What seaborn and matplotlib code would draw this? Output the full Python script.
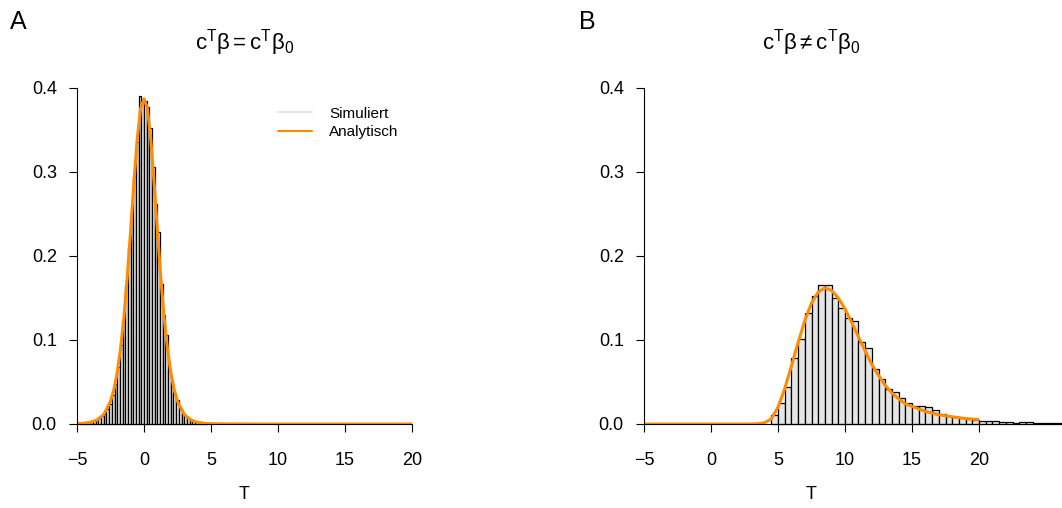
import numpy as np
import pandas as pd
import matplotlib
matplotlib.use("Agg")
import matplotlib.pyplot as plt
import seaborn as sns

# ---------------- data ----------------
# Panel A: simulated histogram (bin width 0.2, edges -4.8 .. 4.8)
a_edges = [round(-4.8 + 0.2 * i, 1) for i in range(49)]
a_heights = [0.001, 0.001, 0.002, 0.002, 0.003, 0.004, 0.005, 0.007, 0.010, 0.012,
             0.018, 0.024, 0.034, 0.048, 0.068, 0.094, 0.122, 0.165, 0.209, 0.250,
             0.294, 0.336, 0.391, 0.386, 0.385, 0.377, 0.352, 0.306, 0.262, 0.229,
             0.167, 0.130, 0.106, 0.064, 0.050, 0.036, 0.028, 0.018, 0.013, 0.010,
             0.007, 0.005, 0.003, 0.002, 0.002, 0.001, 0.001, 0.0005]
# Panel A: analytic density
a_curve_t = [-5, -4.5, -4, -3.5, -3, -2.5, -2.25, -2, -1.75, -1.5, -1.25, -1, -0.75,
             -0.5, -0.25, 0, 0.25, 0.5, 0.75, 1, 1.25, 1.5, 1.75, 2, 2.25, 2.5, 3,
             3.5, 4, 4.5, 5, 6, 8, 20]
a_curve_d = [0.0004, 0.0008, 0.002, 0.0048, 0.0114, 0.027, 0.041, 0.061, 0.090, 0.127,
             0.175, 0.230, 0.288, 0.340, 0.376, 0.387, 0.376, 0.340, 0.288, 0.230,
             0.175, 0.127, 0.090, 0.061, 0.041, 0.027, 0.0114, 0.0048, 0.002, 0.0008,
             0.0004, 0.0001, 0.0, 0.0]

# Panel B: simulated histogram (bin width 0.5, edges 4.5 .. 26.5)
b_edges = [4.5 + 0.5 * i for i in range(45)]
b_heights = [0.011, 0.025, 0.044, 0.078, 0.101, 0.132, 0.152, 0.165, 0.165, 0.150,
             0.138, 0.126, 0.123, 0.098, 0.090, 0.065, 0.054, 0.042, 0.038, 0.031,
             0.025, 0.022, 0.021, 0.020, 0.017, 0.012, 0.010, 0.008, 0.007, 0.006,
             0.005, 0.004, 0.003, 0.003, 0.002, 0.002, 0.0015, 0.002, 0.0025, 0.0015,
             0.001, 0.0015, 0.001, 0.001]
# Panel B: analytic density
b_curve_t = [-5, 3, 3.5, 4, 4.5, 5, 5.5, 6, 6.5, 7, 7.5, 8, 8.5, 9, 9.5, 10, 10.5, 11,
             11.5, 12, 12.5, 13, 13.5, 14, 14.5, 15, 16, 17, 18, 19, 20]
b_curve_d = [0.0, 0.0, 0.0004, 0.0015, 0.006, 0.020, 0.042, 0.069, 0.097, 0.123, 0.144,
             0.157, 0.162, 0.159, 0.150, 0.137, 0.121, 0.104, 0.087, 0.071, 0.058,
             0.046, 0.037, 0.030, 0.024, 0.021, 0.015, 0.011, 0.0085, 0.0065, 0.0053]

x_ticks = [-5, 0, 5, 10, 15, 20]
x_ticklabels = ["\u22125", "0", "5", "10", "15", "20"]
y_ticks = [0.0, 0.1, 0.2, 0.3, 0.4]
y_ticklabels = ["0.0", "0.1", "0.2", "0.3", "0.4"]
titles = [r"$\mathrm{c^T\beta = c^T\beta_0}$", r"$\mathrm{c^T\beta \neq c^T\beta_0}$"]
panel_labels = ["A", "B"]
legend_labels = ["Simuliert", "Analytisch"]
x_label = "T"

# ---------------- style ----------------
sns.set_style("ticks")
plt.rcParams["font.family"] = ["Liberation Sans", "DejaVu Sans"]
plt.rcParams["mathtext.fontset"] = "custom"
plt.rcParams["mathtext.rm"] = "Liberation Sans"
plt.rcParams["mathtext.it"] = "Liberation Sans:italic"
plt.rcParams["mathtext.fallback"] = "stixsans"
plt.rcParams["text.color"] = "black"
plt.rcParams["axes.labelcolor"] = "black"

ORANGE = "#FF8C00"
BARFILL = "#E5E5E5"

fig = plt.figure(figsize=(10.62, 5.08), dpi=100)
W, H = 1062, 508
ax_w = 335 / W
ax_h = 336 / H
ax_bottom = (H - 424) / H
axA = fig.add_axes([77 / W, ax_bottom, ax_w, ax_h])
axB = fig.add_axes([644 / W, ax_bottom, ax_w, ax_h])

panels = [
    (axA, a_edges, a_heights, a_curve_t, a_curve_d),
    (axB, b_edges, b_heights, b_curve_t, b_curve_d),
]

for i, (ax, edges, heights, ct, cd) in enumerate(panels):
    centers = [(edges[k] + edges[k + 1]) / 2 for k in range(len(heights))]
    hdf = pd.DataFrame({"T": centers, "w": heights})
    sns.histplot(data=hdf, x="T", weights="w", bins=edges, stat="count",
                 color=BARFILL, alpha=1, edgecolor="black", linewidth=0.9, ax=ax)
    for p in ax.patches:
        p.set_facecolor(BARFILL)
        p.set_clip_on(False)
    cdf = pd.DataFrame({"T": ct, "d": cd})
    sns.lineplot(data=cdf, x="T", y="d", color=ORANGE, linewidth=2.2, ax=ax,
                 sort=False)
    ax.set_xlim(-5, 20)
    ax.set_ylim(0, 0.4)
    ax.set_xticks(x_ticks)
    ax.set_xticklabels(x_ticklabels)
    ax.set_yticks(y_ticks)
    ax.set_yticklabels(y_ticklabels)
    ax.tick_params(axis="both", direction="out", length=5.5, width=0.8,
                   color="black", labelsize=13, labelcolor="black")
    ax.tick_params(axis="x", pad=15)
    ax.tick_params(axis="y", pad=9)
    ax.set_xlabel(x_label, fontsize=13, labelpad=12, color="black")
    ax.set_ylabel("")
    sns.despine(ax=ax)
    for s in ("left", "bottom"):
        ax.spines[s].set_linewidth(0.8)
        ax.spines[s].set_color("black")
    ax.set_title(titles[i], fontsize=16, pad=28, color="black")

# legend in panel A
from matplotlib.lines import Line2D
handles = [Line2D([0], [0], color=BARFILL, lw=1.5),
           Line2D([0], [0], color=ORANGE, lw=1.5)]
leg = axA.legend(handles, legend_labels, loc="upper right",
                 bbox_to_anchor=(1.0, 0.985), frameon=False, fontsize=11,
                 handlelength=2.2, handletextpad=1.1, labelspacing=0.3)
for t in leg.get_texts():
    t.set_color("black")

fig.text(10 / W, 1 - 22 / H, panel_labels[0], fontsize=18, va="center", ha="left",
         color="black")
fig.text(579 / W, 1 - 22 / H, panel_labels[1], fontsize=18, va="center", ha="left",
         color="black")

fig.savefig("out.png", dpi=100)
